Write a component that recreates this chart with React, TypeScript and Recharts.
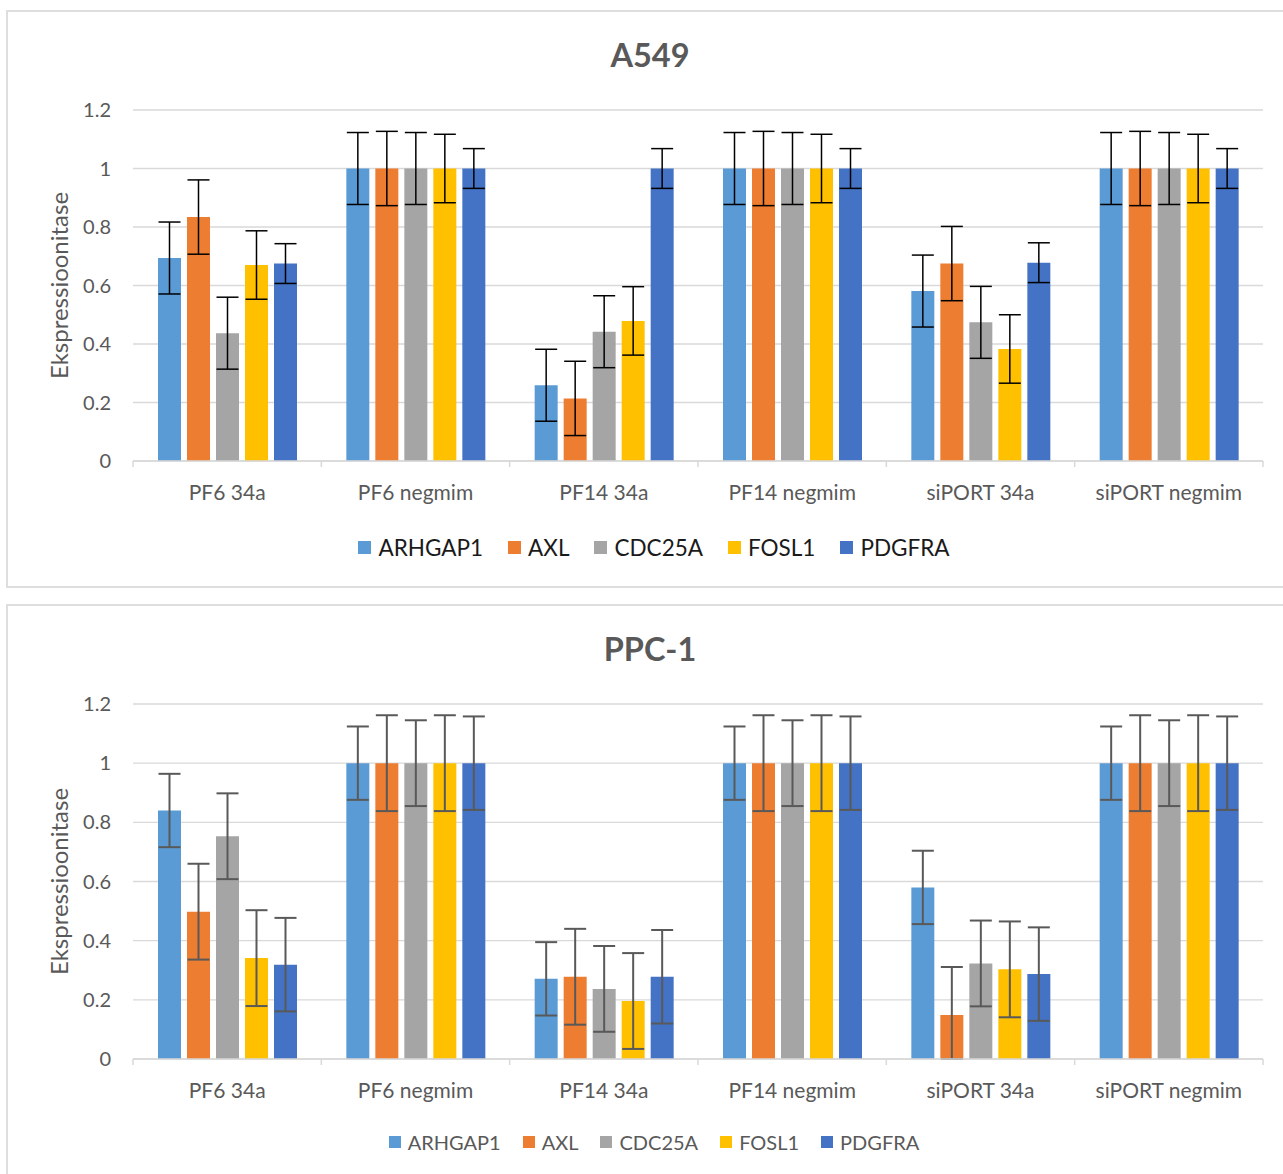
import React from "react";
import { BarChart, Bar, XAxis, YAxis, CartesianGrid, ErrorBar, Legend, Label } from "recharts";

const categories = ["PF6 34a", "PF6 negmim", "PF14 34a", "PF14 negmim", "siPORT 34a", "siPORT negmim"];
const genes = ["ARHGAP1", "AXL", "CDC25A", "FOSL1", "PDGFRA"];
const colors = ["#5B9BD5", "#ED7D31", "#A5A5A5", "#FFC000", "#4472C4"];
const yTicks = [0, 0.2, 0.4, 0.6, 0.8, 1, 1.2];

// A549, one array per gene, values per category
const a549Arhgap1 = [0.694, 1, 0.259, 1, 0.581, 1];
const a549Axl = [0.834, 1, 0.214, 1, 0.675, 1];
const a549Cdc25a = [0.437, 1, 0.442, 1, 0.474, 1];
const a549Fosl1 = [0.67, 1, 0.479, 1, 0.383, 1];
const a549Pdgfra = [0.675, 1, 1, 1, 0.678, 1];
const a549Err = [0.123, 0.127, 0.123, 0.117, 0.068];

// PPC-1
const ppcArhgap1 = [0.84, 1, 0.271, 1, 0.58, 1];
const ppcAxl = [0.498, 1, 0.278, 1, 0.149, 1];
const ppcCdc25a = [0.753, 1, 0.237, 1, 0.323, 1];
const ppcFosl1 = [0.341, 1, 0.196, 1, 0.303, 1];
const ppcPdgfra = [0.319, 1, 0.278, 1, 0.287, 1];
const ppcErr = [0.124, 0.162, 0.145, 0.162, 0.158];

// error bars are cut off at the axis (0), like in excel
const buildRows = (series: number[][], errs: number[]) =>
  categories.map((name, i) => {
    const row: any = { name };
    genes.forEach((g, k) => {
      const v = series[k][i];
      row[g] = v;
      row[g + "_err"] = [Math.min(errs[k], v), errs[k]];
    });
    return row;
  });

const a549Rows = buildRows([a549Arhgap1, a549Axl, a549Cdc25a, a549Fosl1, a549Pdgfra], a549Err);
const ppcRows = buildRows([ppcArhgap1, ppcAxl, ppcCdc25a, ppcFosl1, ppcPdgfra], ppcErr);

const FONT = "Lato, 'Open Sans', sans-serif";
const CHART_W = 1285;
const CHART_H = 574;
const Y_W = 125;
const RIGHT = 30;
const BAND = (CHART_W - Y_W - RIGHT) / categories.length;

const CategoryTick = (props: any) => {
  const { x, y, payload, index } = props;
  const half = BAND / 2;
  return (
    <g>
      <line x1={x - half} x2={x - half} y1={y} y2={y + 6} stroke="#d9d9d9" strokeWidth={1.5} />
      {index === categories.length - 1 && (
        <line x1={x + half} x2={x + half} y1={y} y2={y + 6} stroke="#d9d9d9" strokeWidth={1.5} />
      )}
      <text x={x} y={y + 30} textAnchor="middle" dominantBaseline="central" fill="#595959" fontSize={21} fontFamily={FONT}>
        {payload.value}
      </text>
    </g>
  );
};

const Panel = ({ top, title, rows, errColor, errWidth, xAxisH, legendH, legendFont, legendColor, legendGap, box }: any) => (
  <div
    style={{
      position: "absolute",
      left: 6,
      top,
      width: 1290,
      height: CHART_H,
      border: "2px solid #dedede",
      background: "#fff",
    }}
  >
    <div
      style={{
        position: "absolute",
        left: 0,
        top: 43 - 20,
        width: 1284,
        height: 40,
        lineHeight: "40px",
        textAlign: "center",
        fontFamily: FONT,
        fontWeight: 700,
        fontSize: 32.5,
        color: "#595959",
      }}
    >
      {title}
    </div>
    <div style={{ position: "absolute", left: 0, top: 0 }}>
      <BarChart
        width={CHART_W}
        height={CHART_H}
        data={rows}
        margin={{ top: 98, right: RIGHT, bottom: 24, left: 0 }}
        barCategoryGap={25}
        barGap={6}
      >
        <CartesianGrid vertical={false} stroke="#d9d9d9" strokeWidth={1.3} />
        <XAxis
          dataKey="name"
          height={xAxisH}
          interval={0}
          tickSize={0}
          tickMargin={0}
          tickLine={false}
          axisLine={{ stroke: "#d9d9d9", strokeWidth: 1.5 }}
          tick={<CategoryTick />}
        />
        <YAxis
          width={Y_W}
          domain={[0, 1.2]}
          ticks={yTicks}
          allowDataOverflow
          axisLine={false}
          tickLine={false}
          tickSize={0}
          tickMargin={22}
          tick={{ fill: "#595959", fontSize: 20, fontFamily: FONT }}
        >
          <Label
            content={(p: any) => {
              const vb = p.viewBox;
              const cx = vb.x + 50;
              const cy = vb.y + vb.height / 2;
              return (
                <text
                  x={cx}
                  y={cy}
                  transform={`rotate(-90, ${cx}, ${cy})`}
                  textAnchor="middle"
                  dominantBaseline="central"
                  fill="#595959"
                  fontSize={24}
                  fontFamily={FONT}
                >
                  Ekspressioonitase
                </text>
              );
            }}
          />
        </YAxis>
        <Legend
          verticalAlign="bottom"
          height={legendH}
          wrapperStyle={{ left: 0, width: 1292 }}
          content={() => (
            <div
              style={{
                display: "flex",
                justifyContent: "center",
                alignItems: "center",
                height: legendH,
                fontFamily: FONT,
                fontSize: legendFont,
                color: legendColor,
              }}
            >
              {genes.map((g, k) => (
                <div key={g} style={{ display: "flex", alignItems: "center", marginRight: k < genes.length - 1 ? legendGap : 0 }}>
                  <span
                    style={{
                      display: "inline-block",
                      width: box,
                      height: box,
                      background: colors[k],
                      marginRight: 7,
                    }}
                  />
                  <span>{g}</span>
                </div>
              ))}
            </div>
          )}
        />
        {genes.map((g, k) => (
          <Bar key={g} dataKey={g} fill={colors[k]} isAnimationActive={false}>
            <ErrorBar dataKey={g + "_err"} width={11} stroke={errColor} strokeWidth={errWidth} direction="y" />
          </Bar>
        ))}
      </BarChart>
    </div>
  </div>
);

export default function App() {
  return (
    <div style={{ position: "absolute", left: 0, top: 0, width: 1283, height: 1174, overflow: "hidden", background: "#fff" }}>
      <Panel
        top={10}
        title="A549"
        rows={a549Rows}
        errColor="#000"
        errWidth={1.5}
        xAxisH={71}
        legendH={30}
        legendFont={22.5}
        legendColor="#1a1a1a"
        legendGap={25}
        box={13}
      />
      <Panel
        top={604}
        title="PPC-1"
        rows={ppcRows}
        errColor="#595959"
        errWidth={2}
        xAxisH={69}
        legendH={28}
        legendFont={20}
        legendColor="#595959"
        legendGap={22}
        box={12}
      />
    </div>
  );
}
